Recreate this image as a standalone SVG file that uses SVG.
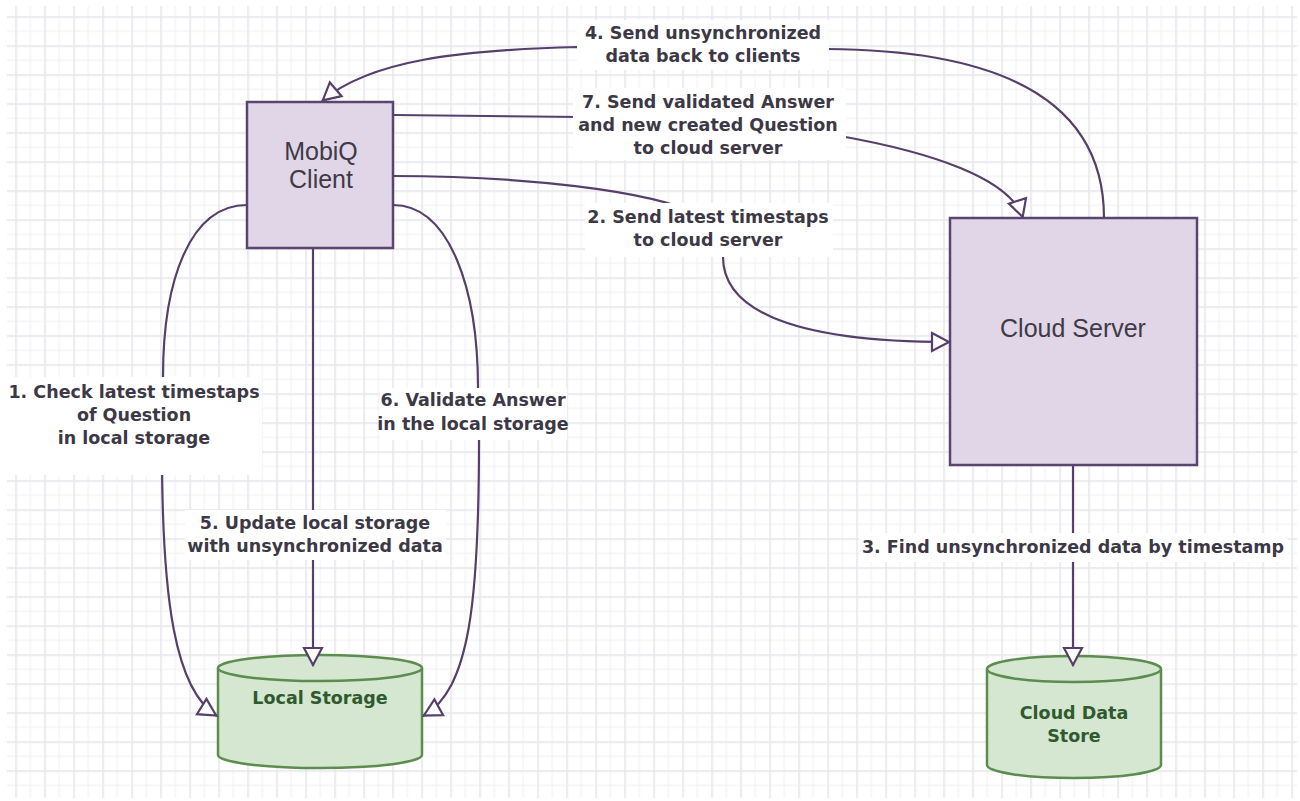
<svg xmlns="http://www.w3.org/2000/svg" width="1300" height="801" viewBox="0 0 1300 801">
  <defs>
    <pattern id="grid" patternUnits="userSpaceOnUse" x="15.3" y="16.3" width="29" height="29">
      <rect x="0" y="0" width="29" height="29" fill="#ffffff"/>
      <rect x="14.5" y="0" width="1" height="29" fill="#f0f0f4"/>
      <rect x="0" y="14.5" width="29" height="1" fill="#f0f0f4"/>
      <rect x="0" y="0" width="1.5" height="29" fill="#e5e5eb"/>
      <rect x="0" y="0" width="29" height="1.5" fill="#e5e5eb"/>
    </pattern>
    <marker id="open-arrow" markerUnits="userSpaceOnUse" markerWidth="26" markerHeight="26" viewBox="-22 -13 26 26" refX="1" refY="0" orient="auto">
      <path d="M-17,-9 L0,0 L-17,9 Z" fill="#ffffff" stroke="#56406b" stroke-width="2.2" stroke-linejoin="miter"/>
    </marker>
    <style>
      .box { fill: #e0d6e8; stroke: #5a4470; stroke-width: 2.5; }
      .box-text { font-family: "Liberation Sans", Arial, sans-serif; font-size: 25px; fill: #3f3a46; text-anchor: middle; }
      .db { fill: #d5e6d1; stroke: #5b8d4e; stroke-width: 2.5; }
      .db-text { font-family: "DejaVu Sans", Verdana, sans-serif; font-weight: bold; font-size: 17.5px; fill: #2f5a2f; text-anchor: middle; }
      .edge { fill: none; stroke: #56406b; stroke-width: 2.2; }
      .label-bg { fill: #ffffff; }
      .label { font-family: "DejaVu Sans", Verdana, sans-serif; font-weight: bold; font-size: 17.5px; fill: #3d3846; text-anchor: middle; }
    </style>
  </defs>

  <!-- canvas -->
  <rect x="0" y="0" width="1300" height="801" fill="#ffffff"/>
  <rect x="7" y="6" width="1290" height="792" fill="url(#grid)"/>

  <!-- nodes -->
  <g id="mobiq-client">
    <rect class="box" x="247" y="102" width="146" height="146"/>
    <text class="box-text" x="321" y="160">MobiQ</text>
    <text class="box-text" x="321" y="188">Client</text>
  </g>

  <g id="cloud-server">
    <rect class="box" x="950" y="218" width="247" height="247"/>
    <text class="box-text" x="1073" y="337">Cloud Server</text>
  </g>

  <g id="local-storage">
    <path class="db" d="M218,668 A102,13 0 0 1 422,668 L422,755 A102,13 0 0 1 218,755 Z"/>
    <path class="db" fill="none" d="M218,668 A102,13 0 0 0 422,668"/>
    <text class="db-text" x="320" y="704">Local Storage</text>
  </g>

  <g id="cloud-data-store">
    <path class="db" d="M987,669 A87,13 0 0 1 1161,669 L1161,765 A87,13 0 0 1 987,765 Z"/>
    <path class="db" fill="none" d="M987,669 A87,13 0 0 0 1161,669"/>
    <text class="db-text" x="1074" y="719">Cloud Data</text>
    <text class="db-text" x="1074" y="742">Store</text>
  </g>

  <!-- connectors -->
  <g id="connectors">
    <!-- 1: client -> local storage -->
    <path class="edge" d="M247,205 C190,205 163,280 163,377 L162,450 C162,600 175,690 217,716" marker-end="url(#open-arrow)"/>
    <!-- 2: client -> cloud server -->
    <path class="edge" d="M393,176 C520,176 650,190 700,215 C715,225 723,240 723,257 C723,305 780,342 950,342" marker-end="url(#open-arrow)"/>
    <!-- 3: cloud server -> cloud data store -->
    <path class="edge" d="M1073,466 L1073,666" marker-end="url(#open-arrow)"/>
    <!-- 4: cloud server -> client -->
    <path class="edge" d="M1104,218 C1104,100 1000,50 827,49 L578,47 C460,50 370,60 322,101" marker-end="url(#open-arrow)"/>
    <!-- 5: client -> local storage -->
    <path class="edge" d="M313,248 L313,666" marker-end="url(#open-arrow)"/>
    <!-- 6: client -> local storage -->
    <path class="edge" d="M393,205 C450,205 478,290 478,388 L479,440 C479,600 470,690 423,716" marker-end="url(#open-arrow)"/>
    <!-- 7: client -> cloud server -->
    <path class="edge" d="M393,115 L580,117 L840,136 C930,152 1010,178 1023,218" marker-end="url(#open-arrow)"/>

    <!-- edge labels -->
    <g id="label-1">
      <rect class="label-bg" x="1" y="377" width="261" height="98"/>
      <text class="label" x="134" y="398">1. Check latest timestaps</text>
      <text class="label" x="134" y="421">of Question</text>
      <text class="label" x="134" y="444">in local storage</text>
    </g>
    <g id="label-2">
      <rect class="label-bg" x="585" y="203" width="248" height="54"/>
      <text class="label" x="708" y="223">2. Send latest timestaps</text>
      <text class="label" x="708" y="246">to cloud server</text>
    </g>
    <g id="label-3">
      <rect class="label-bg" x="859" y="533" width="429" height="29"/>
      <text class="label" x="1073" y="553">3. Find unsynchronized data by timestamp</text>
    </g>
    <g id="label-4">
      <rect class="label-bg" x="577" y="20" width="252" height="50"/>
      <text class="label" x="703" y="39">4. Send unsynchronized</text>
      <text class="label" x="703" y="62">data back to clients</text>
    </g>
    <g id="label-5">
      <rect class="label-bg" x="185" y="510" width="261" height="50"/>
      <text class="label" x="315" y="529">5. Update local storage</text>
      <text class="label" x="315" y="552">with unsynchronized data</text>
    </g>
    <g id="label-6">
      <rect class="label-bg" x="380" y="388" width="187" height="52"/>
      <text class="label" x="473" y="406">6. Validate Answer</text>
      <text class="label" x="473" y="430">in the local storage</text>
    </g>
    <g id="label-7">
      <rect class="label-bg" x="573" y="88" width="273" height="72"/>
      <text class="label" x="708" y="108">7. Send validated Answer</text>
      <text class="label" x="708" y="131">and new created Question</text>
      <text class="label" x="708" y="154">to cloud server</text>
    </g>
  </g>
</svg>
